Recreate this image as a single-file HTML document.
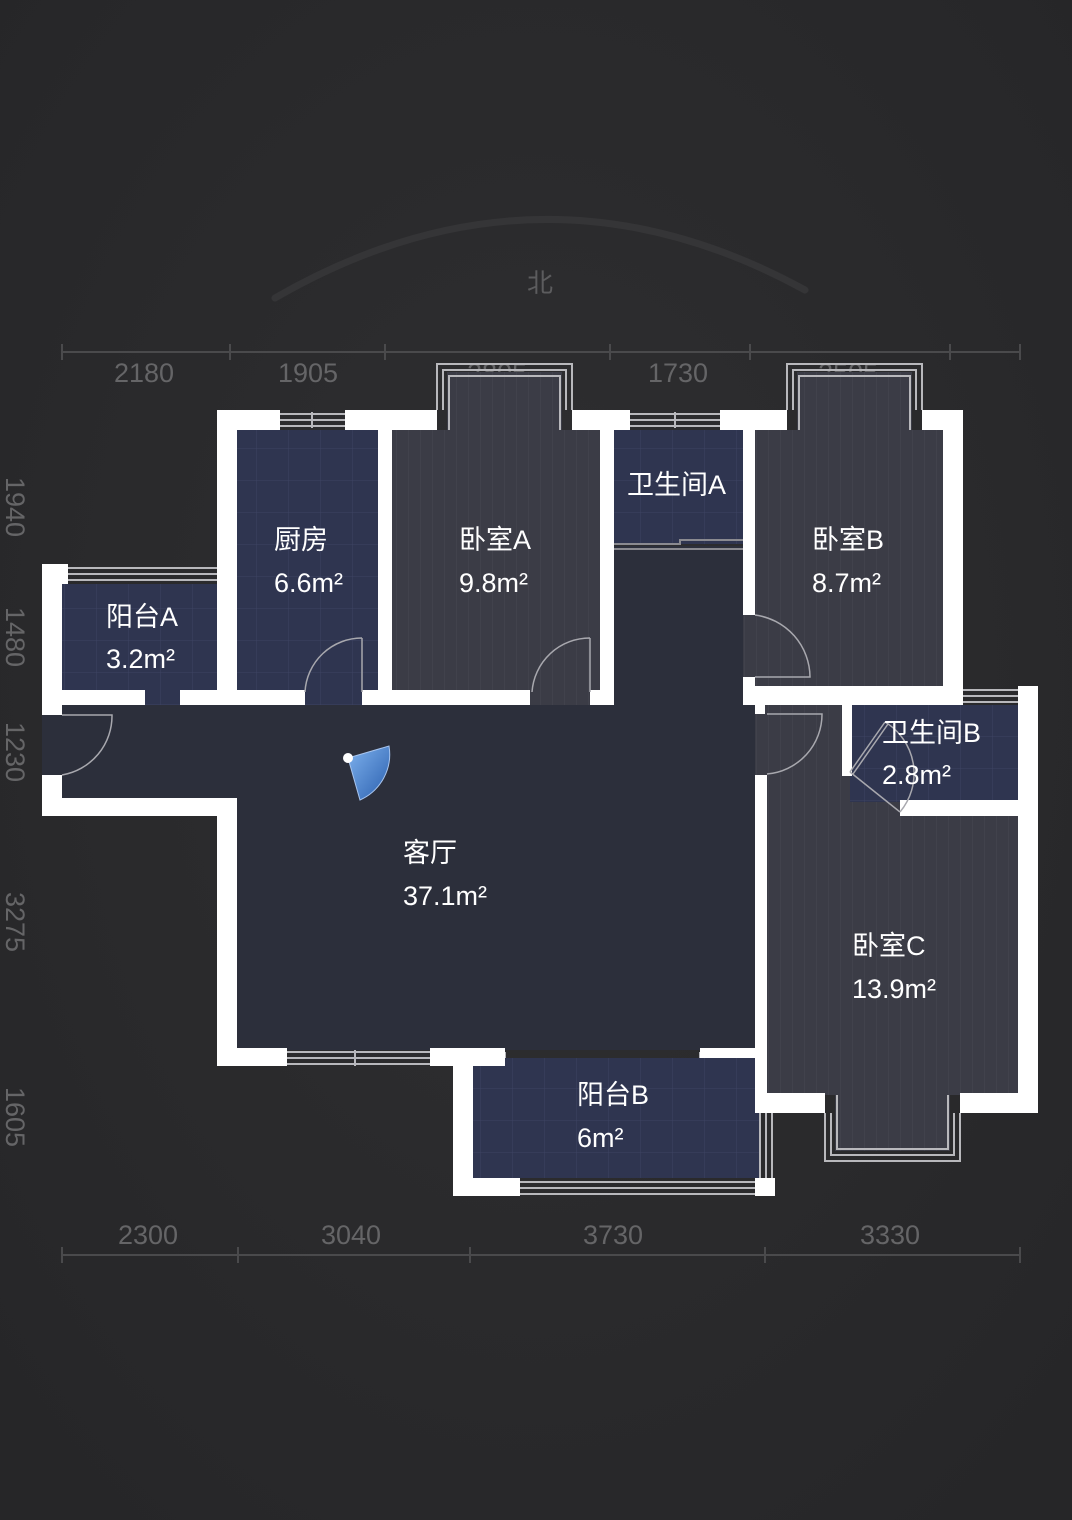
<!DOCTYPE html>
<html><head><meta charset="utf-8"><style>
html,body{margin:0;padding:0;background:#2b2b2d;}
svg{display:block}
text{font-family:"Liberation Sans","Noto Sans CJK SC",sans-serif;}
</style></head><body>
<svg width="1072" height="1520" viewBox="0 0 1072 1520" xmlns="http://www.w3.org/2000/svg">
<defs>
<radialGradient id="bg" cx="50%" cy="45%" r="70%">
<stop offset="0" stop-color="#2f2f31"/><stop offset="1" stop-color="#262628"/>
</radialGradient>
<pattern id="tile" width="32" height="32" patternUnits="userSpaceOnUse">
<rect width="32" height="32" fill="#2f3550"/>
<path d="M0 0H32M0 0V32" stroke="#3d4462" stroke-width="1"/>
</pattern>
<pattern id="wood" width="12" height="40" patternUnits="userSpaceOnUse">
<rect width="12" height="40" fill="#3b3c46"/>
<path d="M0 0V40" stroke="#474853" stroke-width="1"/>
</pattern>
<linearGradient id="fan" x1="0" y1="0" x2="1" y2="1">
<stop offset="0" stop-color="#7fb2ee"/><stop offset="1" stop-color="#2a5fae"/>
</linearGradient>
</defs>
<rect width="1072" height="1520" fill="url(#bg)"/>
<path d="M275 298 Q540 145 805 290" fill="none" stroke="#353537" stroke-width="7" stroke-linecap="round"/>
<text x="540" y="292" fill="#5c5c5e" font-size="26" text-anchor="middle">北</text>
<g stroke="#4a4a4c" stroke-width="2">
<line x1="62" y1="352" x2="1020" y2="352"/>
<line x1="62" y1="344" x2="62" y2="360"/><line x1="230" y1="344" x2="230" y2="360"/><line x1="385" y1="344" x2="385" y2="360"/><line x1="610" y1="344" x2="610" y2="360"/><line x1="750" y1="344" x2="750" y2="360"/><line x1="950" y1="344" x2="950" y2="360"/><line x1="1020" y1="344" x2="1020" y2="360"/>
<line x1="62" y1="1255" x2="1020" y2="1255"/>
<line x1="62" y1="1247" x2="62" y2="1263"/><line x1="238" y1="1247" x2="238" y2="1263"/><line x1="470" y1="1247" x2="470" y2="1263"/><line x1="765" y1="1247" x2="765" y2="1263"/><line x1="1020" y1="1247" x2="1020" y2="1263"/>
</g>
<g fill="#656567" font-size="27" text-anchor="middle">
<text x="144" y="382">2180</text><text x="308" y="382">1905</text><text x="497" y="382">2805</text><text x="678" y="382">1730</text><text x="848" y="382">2505</text>
<text x="148" y="1244">2300</text><text x="351" y="1244">3040</text><text x="613" y="1244">3730</text><text x="890" y="1244">3330</text>
</g>
<g fill="#656567" font-size="27" text-anchor="middle">
<text transform="translate(6 507) rotate(90)">1940</text>
<text transform="translate(6 637) rotate(90)">1480</text>
<text transform="translate(6 752) rotate(90)">1230</text>
<text transform="translate(6 922) rotate(90)">3275</text>
<text transform="translate(6 1117) rotate(90)">1605</text>
<text transform="translate(1075 560) rotate(90)">3400</text>
<text transform="translate(1075 740) rotate(90)">1550</text>
<text transform="translate(1075 940) rotate(90)">3000</text>
</g>
<polygon points="42,700 614,700 614,546 743,546 743,700 760,700 760,1050 237,1050 237,798 42,798" fill="#2c2f3b"/>
<rect x="62" y="584" width="165" height="121" fill="url(#tile)"/>
<rect x="237" y="430" width="143" height="275" fill="url(#tile)"/>
<rect x="392" y="430" width="208" height="275" fill="url(#wood)"/>
<rect x="447" y="372" width="115" height="60" fill="url(#wood)"/>
<rect x="614" y="430" width="129" height="114" fill="url(#tile)"/>
<rect x="743" y="430" width="200" height="258" fill="url(#wood)"/>
<rect x="797" y="372" width="115" height="60" fill="url(#wood)"/>
<rect x="755" y="705" width="263" height="390" fill="url(#wood)"/>
<rect x="835" y="1093" width="115" height="58" fill="url(#wood)"/>
<rect x="850" y="705" width="168" height="97" fill="url(#tile)"/>
<rect x="473" y="1058" width="287" height="120" fill="url(#tile)"/>
<g fill="none" stroke="#b8b8bc" stroke-width="2">
<path d="M437 410V364H572V410M443 410V370H566V410M449 430V376H560V430"/>
<path d="M787 410V364H922V410M793 410V370H916V410M799 430V376H910V430"/>
<path d="M825 1113V1161H960V1113M831 1113V1155H954V1113M837 1095V1149H948V1095"/>
<path d="M280 414H345M280 420H345M280 426H345M312 412V428"/>
<path d="M630 414H720M630 420H720M630 426H720M675 412V428"/>
<path d="M68 568H217M68 574H217M68 580H217"/>
<path d="M287 1052H430M287 1058H430M287 1064H430M355 1050V1066"/>
<path d="M520 1182H755M520 1188H755M520 1194H755"/>
<path d="M760 1113V1178M766 1113V1178M772 1113V1178"/>
<path d="M870 690H1018M870 696H1018M870 702H1018"/>
<path d="M614 544H680V540H743M614 549H743" stroke="#8a8a90"/>
<path d="M505 1052V1058M700 1052V1058"/>
</g>
<g fill="#ffffff">
<rect x="217" y="410" width="63" height="20"/><rect x="345" y="410" width="92" height="20"/>
<rect x="217" y="410" width="20" height="295"/>
<rect x="42" y="564" width="26" height="20"/><rect x="42" y="564" width="20" height="151"/>
<rect x="42" y="775" width="20" height="41"/>
<rect x="42" y="798" width="195" height="18"/>
<rect x="217" y="798" width="20" height="268"/>
<rect x="217" y="1048" width="70" height="18"/>
<rect x="430" y="1048" width="75" height="18"/>
<rect x="700" y="1048" width="60" height="10"/>
<rect x="453" y="1048" width="20" height="148"/>
<rect x="453" y="1178" width="67" height="18"/>
<rect x="755" y="1178" width="20" height="18"/>
<rect x="755" y="1093" width="70" height="20"/>
<rect x="960" y="1093" width="78" height="20"/>
<rect x="755" y="775" width="12" height="338"/>
<rect x="755" y="700" width="10" height="14"/>
<rect x="1018" y="686" width="20" height="427"/>
<rect x="842" y="686" width="28" height="19"/>
<rect x="842" y="686" width="10" height="90"/>
<rect x="900" y="800" width="118" height="16"/>
<rect x="943" y="410" width="20" height="290"/>
<rect x="745" y="686" width="218" height="19"/>
<rect x="743" y="410" width="12" height="205"/>
<rect x="743" y="677" width="12" height="28"/>
<rect x="720" y="410" width="67" height="20"/><rect x="922" y="410" width="41" height="20"/>
<rect x="572" y="410" width="58" height="20"/>
<rect x="600" y="410" width="14" height="295"/>
<rect x="378" y="410" width="14" height="295"/>
<rect x="365" y="690" width="165" height="15"/>
<rect x="590" y="690" width="24" height="15"/>
<rect x="217" y="690" width="88" height="15"/>
<rect x="362" y="690" width="30" height="15"/>
<rect x="42" y="690" width="103" height="15"/>
<rect x="180" y="690" width="57" height="15"/>
</g>
<g fill="none" stroke="#a8a8ae" stroke-width="1.5">
<path d="M362 638V692M305 692A57 57 0 0 1 362 638"/>
<path d="M590 638V692M532 692A58 58 0 0 1 590 638"/>
<path d="M755 615A63 63 0 0 1 810 677H755"/>
<path d="M62 715H112A60 60 0 0 1 62 775"/>
<path d="M767 714H822A60 60 0 0 1 767 774"/>
<path d="M850 772L885 722M853 774L888 724M850 772L900 812M885 722A60 60 0 0 1 900 812"/>
</g>
<path d="M348 758L360 800A50 50 0 0 0 389 746Z" fill="url(#fan)" stroke="#a7c4ee" stroke-width="1"/>
<circle cx="348" cy="758" r="5" fill="#fff"/>
<g fill="#ffffff" font-size="27">
<text x="274" y="549">厨房</text><text x="274" y="592">6.6m²</text>
<text x="459" y="549">卧室A</text><text x="459" y="592">9.8m²</text>
<text x="627" y="494">卫生间A</text>
<text x="812" y="549">卧室B</text><text x="812" y="592">8.7m²</text>
<text x="106" y="626">阳台A</text><text x="106" y="668">3.2m²</text>
<text x="882" y="742">卫生间B</text><text x="882" y="784">2.8m²</text>
<text x="403" y="862">客厅</text><text x="403" y="905">37.1m²</text>
<text x="852" y="955">卧室C</text><text x="852" y="998">13.9m²</text>
<text x="577" y="1104">阳台B</text><text x="577" y="1147">6m²</text>
</g>
</svg>
</body></html>
